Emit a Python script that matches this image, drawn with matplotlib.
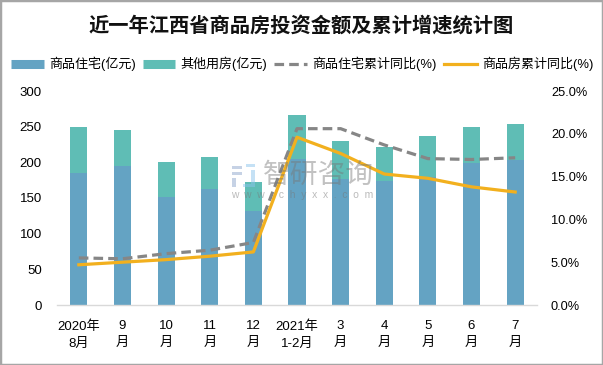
import matplotlib
matplotlib.use('Agg')
import matplotlib.pyplot as plt
from matplotlib.lines import Line2D
from matplotlib.patches import Rectangle

plt.rcParams['font.family'] = ['Liberation Sans', 'Noto Sans CJK SC', 'DejaVu Sans']

months = ['2020年\n8月', '9\n月', '10\n月', '11\n月', '12\n月', '2021年\n1-2月', '3\n月', '4\n月', '5\n月', '6\n月', '7\n月']
house = [185, 195, 152, 163, 132, 205, 177, 174, 180, 199, 203]
other = [65, 51, 48, 44, 41, 61, 53, 47, 57, 50, 51]
house_yoy = [5.5, 5.4, 6.0, 6.4, 7.3, 20.6, 20.6, 18.7, 17.1, 17.0, 17.2]
all_yoy = [4.7, 5.0, 5.3, 5.7, 6.2, 19.6, 17.7, 15.3, 14.8, 13.8, 13.2]

W, H = 603, 365
BLUE = '#64A3C3'
TEAL = '#5FBDB5'
GRAY = '#868686'
YELLOW = '#F2B01E'

fig = plt.figure(figsize=(W / 100, H / 100), dpi=100)
ax = fig.add_axes([57 / W, 1 - 305 / H, 480 / W, 214 / H])
x = list(range(len(months)))

ax.bar(x, house, width=0.39, color=BLUE, zorder=2)
ax.bar(x, other, width=0.39, bottom=house, color=TEAL, zorder=2)
ax.set_xlim(-0.5, 10.5)
ax.set_ylim(0, 300)
ax.set_yticks(range(0, 301, 50))
ax.set_xticks(x)
ax.set_xticklabels(months, fontsize=9.5, linespacing=1.55)
ax.tick_params(axis='both', length=0, labelsize=9.5)
ax.tick_params(axis='x', pad=11)
ax.tick_params(axis='y', pad=11)
for s in ['top', 'left', 'right']:
    ax.spines[s].set_visible(False)
ax.spines['bottom'].set_color('#D9D9D9')
ax.spines['bottom'].set_linewidth(1)

ax2 = ax.twinx()
ax2.plot(x, house_yoy, color=GRAY, lw=2.3, dashes=(3, 1.6), zorder=3)
ax2.plot(x, all_yoy, color=YELLOW, lw=2.3, zorder=4)
ax2.set_ylim(0, 25)
ax2.set_yticks([0, 5, 10, 15, 20, 25])
ax2.set_yticklabels(['0.0%', '5.0%', '10.0%', '15.0%', '20.0%', '25.0%'])
ax2.tick_params(axis='y', length=0, labelsize=9.2, pad=10)
for s in ax2.spines.values():
    s.set_visible(False)

fig.text(301 / W, 1 - 26 / H, '近一年江西省商品房投资金额及累计增速统计图', fontsize=14.6, fontweight='bold',
         ha='center', va='center', color='#111111')

# legend
handles = [Line2D([], [], color=BLUE, lw=6.5, solid_capstyle='butt'),
           Line2D([], [], color=TEAL, lw=6.5, solid_capstyle='butt'),
           Line2D([], [], color=GRAY, lw=2.3, dashes=(3, 1.6)),
           Line2D([], [], color=YELLOW, lw=2.3)]
names = ['商品住宅(亿元)', '其他用房(亿元)', '商品住宅累计同比(%)', '商品房累计同比(%)']
fig.legend(handles, names, ncol=4, frameon=False, fontsize=9.4, loc='center', bbox_to_anchor=(302 / W, 1 - 64 / H),
           handlelength=2.5, handletextpad=0.4, columnspacing=0.55, borderpad=0, borderaxespad=0)

# watermark
for lx, ly, lw_, lh, c in [(232, 166, 10, 3, '#8FA6CC'), (232, 172, 10, 3, '#8FA6CC'), (232, 178, 4, 9, '#8FA6CC'),
                           (246, 164, 9, 3, '#8CC4EC'), (251, 170, 4, 14, '#8CC4EC'), (243, 184, 12, 3, '#8CC4EC')]:
    fig.add_artist(Rectangle((lx / W, 1 - (ly + lh) / H), lw_ / W, lh / H, transform=fig.transFigure,
                             color=c, alpha=0.5, lw=0, zorder=6))
fig.text(318 / W, 1 - 176 / H, '智研咨询', fontsize=20, color='#777777', alpha=0.45, ha='center', va='center', zorder=6)
fig.text(302 / W, 1 - 195 / H, 'w  w  w  .  c  h  y  x  x  .  c  o  m', fontsize=7.4, color='#777777', alpha=0.5,
         ha='center', va='center', zorder=6)

# picture border
fig.add_artist(Rectangle((0, 0), 1, 1, transform=fig.transFigure, fill=False, edgecolor='#A6A6A6', lw=2.5))

fig.savefig('out.png', dpi=100)
